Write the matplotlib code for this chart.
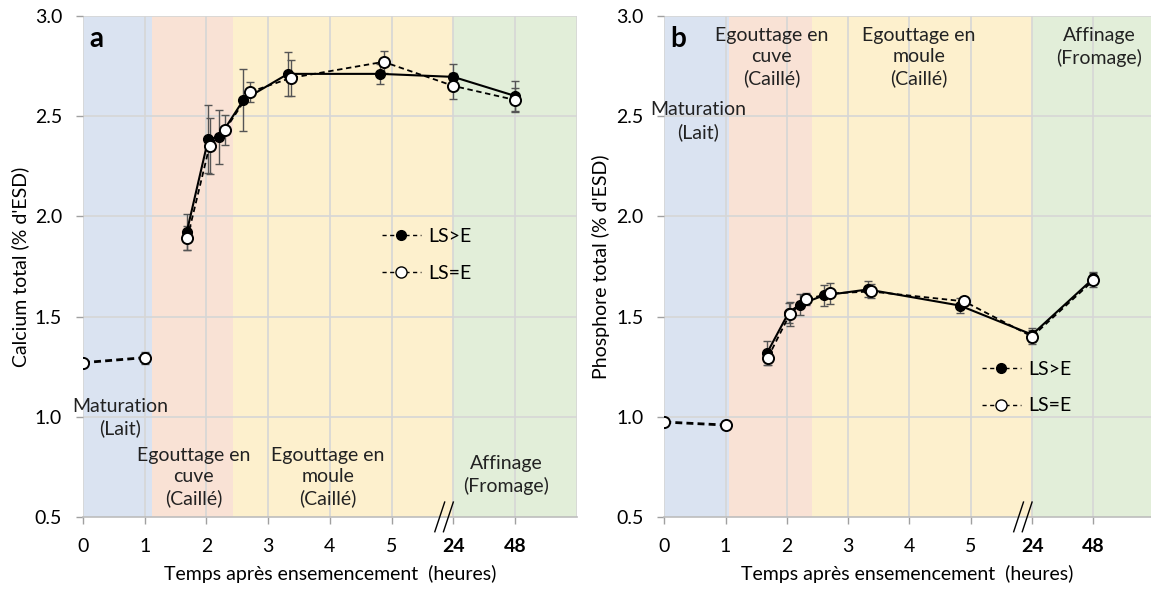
import matplotlib.pyplot as plt
from matplotlib.lines import Line2D
from matplotlib.transforms import ScaledTranslation

plt.rcParams['font.family'] = ['Lato', 'DejaVu Sans']

# x positions on the broken time axis (0..5 h, then 24 h at 6 and 48 h at 7)
tick_pos = [0, 1, 2, 3, 4, 5, 6, 7]
tick_labels = ['0', '1', '2', '3', '4', '5', '24', '48']

# maturation (milk) points
t_lait = [0, 1]
ca_lait = [1.27, 1.295]
ca_lait_err = [0.02, 0.03]
p_lait = [0.974, 0.959]
p_lait_err = [0.015, 0.02]

# panel a - calcium
ta_fill = [1.68, 2.03, 2.21, 2.60, 3.32, 4.82, 6, 7]
ca_fill = [1.92, 2.385, 2.395, 2.58, 2.71, 2.71, 2.695, 2.60]
ca_fill_err = [0.09, 0.17, 0.135, 0.155, 0.11, 0.05, 0.065, 0.075]
ta_open = [1.69, 2.05, 2.30, 2.71, 3.37, 4.87, 6, 7]
ca_open = [1.89, 2.35, 2.43, 2.62, 2.69, 2.77, 2.65, 2.58]
ca_open_err = [0.06, 0.14, 0.075, 0.05, 0.09, 0.055, 0.065, 0.06]

# panel b - phosphore
tb_fill = [1.68, 2.03, 2.21, 2.60, 3.32, 4.82, 6, 7]
p_fill = [1.32, 1.52, 1.56, 1.605, 1.635, 1.555, 1.41, 1.69]
p_fill_err = [0.06, 0.05, 0.05, 0.05, 0.04, 0.035, 0.035, 0.03]
tb_open = [1.69, 2.05, 2.31, 2.70, 3.37, 4.89, 6, 7]
p_open = [1.295, 1.513, 1.586, 1.615, 1.625, 1.576, 1.40, 1.68]
p_open_err = [0.035, 0.06, 0.03, 0.05, 0.035, 0.02, 0.035, 0.035]

band_colors = ['#dae3f1', '#f9e2d5', '#fdf0cd', '#e2eed9']
bands_a = [0, 1.115, 2.43, 6.0, 8.0]
bands_b = [0, 1.05, 2.41, 6.0, 8.0]

phases = ['Maturation\n(Lait)', 'Egouttage en\ncuve\n(Caillé)',
          'Egouttage en\nmoule\n(Caillé)', 'Affinage\n(Fromage)']
phase_xy_a = [(0.6, 0.995), (1.79, 0.70), (3.97, 0.70), (6.86, 0.71)]
phase_xy_b = [(0.55, 2.475), (1.75, 2.795), (4.15, 2.795), (7.1, 2.845)]

grid_c = '#d6d6d6'
err_c = '#555555'
fs = 14


def draw_panel(ax, bands, t_fill, y_fill, e_fill, t_open, y_open, e_open,
               y_lait, e_lait, letter, ylabel, phase_xy, leg_xy, xmax):
    for i, c in enumerate(band_colors):
        ax.axvspan(bands[i], bands[i + 1], color=c, lw=0, zorder=0)
    for x in tick_pos + [8]:
        ax.axvline(x, color=grid_c, lw=1.2, zorder=0.5)
    for y in [1.0, 1.5, 2.0, 2.5, 3.0]:
        ax.axhline(y, color=grid_c, lw=1.2, zorder=0.5)

    ax.errorbar(t_fill, y_fill, yerr=e_fill, fmt='none', ecolor=err_c,
                elinewidth=1, capsize=3, capthick=1, zorder=2)
    ax.errorbar(t_open, y_open, yerr=e_open, fmt='none', ecolor=err_c,
                elinewidth=1, capsize=3, capthick=1, zorder=2)
    ax.errorbar(t_lait, y_lait, yerr=e_lait, fmt='none', ecolor=err_c,
                elinewidth=1, capsize=3, capthick=1, zorder=2)
    ax.plot(t_fill, y_fill, '-', color='black', lw=1.5, marker='o', ms=7,
            mfc='black', mec='black', zorder=3)
    ax.plot(t_open, y_open, '--', color='black', lw=1.3, dashes=(3, 2),
            marker='o', ms=8, mfc='white', mec='black', mew=1.4, zorder=4)
    ax.plot(t_lait, y_lait, '--', color='black', lw=2, dashes=(2.5, 1.5),
            marker='o', ms=8, mfc='white', mec='black', mew=1.4, zorder=4)

    for txt, (x, y) in zip(phases, phase_xy):
        ax.text(x, y, txt, ha='center', va='center', fontsize=fs,
                linespacing=1.3, color='#222222', zorder=5)
    ax.text(0.1, 2.885, letter, fontsize=20, fontweight='bold',
            ha='left', va='center')

    h1 = Line2D([], [], color='black', ls='--', dashes=(3, 2.5), lw=1,
                marker='o', ms=7, mfc='black', mec='black')
    h2 = Line2D([], [], color='black', ls='--', dashes=(3, 2.5), lw=1,
                marker='o', ms=8, mfc='white', mec='black')
    ax.legend([h1, h2], ['LS>E', 'LS=E'], loc='center left',
              bbox_to_anchor=leg_xy, bbox_transform=ax.transData,
              frameon=False, fontsize=fs, handlelength=2.0,
              handletextpad=0.4, labelspacing=1.0, borderpad=0,
              borderaxespad=0, numpoints=1)

    # axis break marks
    for dx in (0, 0.14):
        ax.plot([5.70 + dx, 6.0 + dx - 0.14], [0.427, 0.575], color='black',
                lw=1, clip_on=False, zorder=6)

    ax.set_xlim(0, xmax)
    ax.set_ylim(0.5, 3.0)
    ax.set_yticks([0.5, 1.0, 1.5, 2.0, 2.5, 3.0])
    ax.set_yticklabels(['0.5', '1.0', '1.5', '2.0', '2.5', '3.0'])
    ax.set_xticks(tick_pos)
    ax.set_xticklabels(tick_labels)
    for lab in ax.get_xticklabels()[6:]:
        lab.set_fontweight('bold')
        lab.set_transform(lab.get_transform() +
                          ScaledTranslation(0.07, 0, ax.figure.dpi_scale_trans))
    ax.tick_params(axis='both', labelsize=fs, color='#a0a0a0', length=5,
                   width=1)
    ax.tick_params(axis='x', pad=10)
    ax.tick_params(axis='y', pad=10)
    for s in ['top', 'right', 'left']:
        ax.spines[s].set_visible(False)
    ax.spines['bottom'].set_color('#bdbdbd')
    ax.spines['bottom'].set_linewidth(1.2)
    ax.set_xlabel('Temps après ensemencement  (heures)', fontsize=fs,
                  labelpad=7)
    ax.set_ylabel(ylabel, fontsize=fs, labelpad=4)


fig = plt.figure(figsize=(11.51, 5.93), dpi=100)
ax1 = fig.add_axes([0.0721, 0.128, 0.4290, 0.8455])
ax2 = fig.add_axes([0.5771, 0.128, 0.4229, 0.8455])

draw_panel(ax1, bands_a, ta_fill, ca_fill, ca_fill_err, ta_open, ca_open,
           ca_open_err, ca_lait, ca_lait_err, 'a', "Calcium total (% d'ESD)",
           phase_xy_a, (4.84, 1.807), 8.0)
draw_panel(ax2, bands_b, tb_fill, p_fill, p_fill_err, tb_open, p_open,
           p_open_err, p_lait, p_lait_err, 'b', "Phosphore total (% d'ESD)",
           phase_xy_b, (5.18, 1.145), 7.94)

fig.savefig('out.png', dpi=100)
